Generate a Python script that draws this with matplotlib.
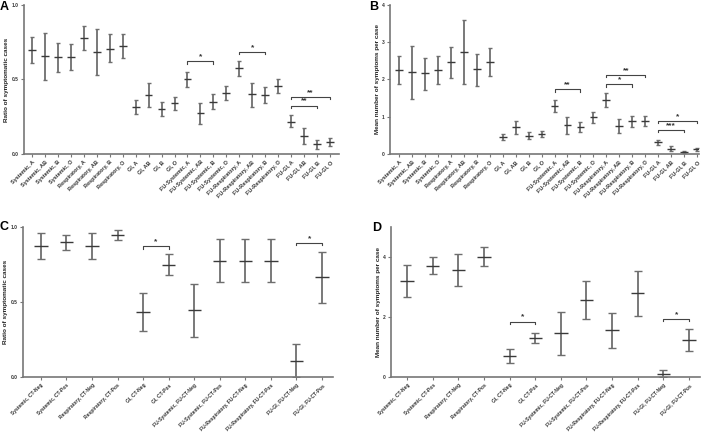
import numpy as np
import matplotlib
matplotlib.use("Agg")
import matplotlib.pyplot as plt

plt.rcParams['font.family'] = ['Liberation Sans', 'DejaVu Sans']

# ---- panel A / B categories (blood groups)
groups_ab = ["Systemic, A", "Systemic, AB", "Systemic, B", "Systemic, O",
             "Respiratory, A", "Respiratory, AB", "Respiratory, B", "Respiratory, O",
             "GI, A", "GI, AB", "GI, B", "GI, O",
             "FU-Systemic, A", "FU-Systemic, AB", "FU-Systemic, B", "FU-Systemic, O",
             "FU-Respiratory, A", "FU-Respiratory, AB", "FU-Respiratory, B", "FU-Respiratory, O",
             "FU-GI, A", "FU-GI, AB", "FU-GI, B", "FU-GI, O"]

a_mean = [0.697, 0.659, 0.648, 0.650, 0.780, 0.686, 0.708, 0.726,
          0.314, 0.394, 0.303, 0.341, 0.501, 0.274, 0.352, 0.408,
          0.575, 0.401, 0.396, 0.459, 0.218, 0.122, 0.065, 0.078]
a_hi = [0.782, 0.815, 0.744, 0.735, 0.860, 0.842, 0.806, 0.806,
        0.361, 0.474, 0.347, 0.383, 0.548, 0.345, 0.401, 0.454,
        0.621, 0.479, 0.448, 0.503, 0.261, 0.174, 0.091, 0.107]
a_lo = [0.608, 0.499, 0.548, 0.563, 0.697, 0.530, 0.617, 0.644,
        0.267, 0.314, 0.252, 0.296, 0.450, 0.203, 0.301, 0.363,
        0.526, 0.318, 0.343, 0.412, 0.180, 0.069, 0.036, 0.051]
a_sig = [(12, 14, 0.621, "*"), (16, 18, 0.686, "*"),
         (20, 22, 0.325, "**"), (20, 23, 0.383, "**")]

b_mean = [2.254, 2.20, 2.165, 2.254, 2.459, 2.744, 2.272, 2.459,
          0.445, 0.713, 0.49, 0.535, 1.292, 0.775, 0.722, 0.989,
          1.461, 0.757, 0.873, 0.873, 0.312, 0.143, 0.062, 0.125]
b_hi = [2.637, 2.904, 2.584, 2.628, 2.877, 3.608, 2.69, 2.84,
        0.526, 0.873, 0.579, 0.615, 1.452, 0.998, 0.846, 1.131,
        1.63, 0.935, 1.016, 1.007, 0.383, 0.214, 0.089, 0.169]
b_lo = [1.871, 1.47, 1.71, 1.871, 2.04, 1.871, 1.835, 2.085,
        0.365, 0.535, 0.40, 0.454, 1.122, 0.543, 0.597, 0.837,
        1.274, 0.561, 0.73, 0.757, 0.24, 0.071, 0.036, 0.089]
b_sig = [(12, 14, 1.737, "**"), (16, 18, 1.871, "*"), (16, 19, 2.12, "**"),
         (20, 22, 0.65, "***"), (20, 23, 0.89, "*")]

# ---- panel C / D categories (CT status)
groups_cd = ["Systemic, CT-Neg", "Systemic, CT-Pos", "Respiratory, CT-Neg", "Respiratory, CT-Pos",
             "GI, CT-Neg", "GI, CT-Pos", "FU-Systemic, FU-CT-Neg", "FU-Systemic, FU-CT-Pos",
             "FU-Respiratory, FU-CT-Neg", "FU-Respiratory, FU-CT-Pos", "FU-GI, FU-CT-Neg", "FU-GI, FU-CT-Pos"]

c_mean = [0.873, 0.898, 0.873, 0.949, 0.436, 0.749, 0.444, 0.776, 0.776, 0.776, 0.109, 0.664]
c_hi = [0.960, 0.949, 0.960, 0.982, 0.562, 0.818, 0.618, 0.922, 0.922, 0.922, 0.218, 0.831]
c_lo = [0.789, 0.849, 0.789, 0.913, 0.307, 0.678, 0.264, 0.631, 0.631, 0.631, 0.0, 0.496]
c_sig = [(4, 5, 0.871, "*"), (10, 11, 0.893, "*")]

d_mean = [3.20, 3.711, 3.567, 4.011, 0.70, 1.311, 1.456, 2.567, 1.567, 2.789, 0.111, 1.233]
d_hi = [3.733, 3.989, 4.10, 4.322, 0.922, 1.467, 2.178, 3.20, 2.133, 3.533, 0.233, 1.60]
d_lo = [2.656, 3.422, 3.044, 3.70, 0.456, 1.133, 0.722, 1.933, 0.978, 2.044, 0.0, 0.867]
d_sig = [(4, 5, 1.844, "*"), (10, 11, 1.933, "*")]


def draw_panel(ax, labels, mean, hi, lo, sig, ylim, yticks, yticklabels, ylabel,
               xlim, mw, cap, bh, xfs):
    x = np.arange(len(labels))
    mean = np.array(mean)
    yerr = [mean - np.array(lo), np.array(hi) - mean]
    ax.errorbar(x, mean, yerr=yerr, fmt='none', ecolor='#6e6e6e', elinewidth=1.3,
                capsize=cap, capthick=1.0)
    ax.hlines(mean, x - mw, x + mw, colors='#3a3a3a', linewidth=1.0)
    for i, j, y, txt in sig:
        ax.plot([i, i, j, j], [y - bh, y, y, y - bh], color='#444444', linewidth=0.8)
        ax.text((i + j) / 2, y + bh * 0.4, txt, ha='center', va='bottom',
                fontsize=6, fontweight='bold', color='#333333')
    ax.set_xlim(*xlim)
    ax.set_ylim(*ylim)
    ax.set_yticks(yticks)
    ax.set_yticklabels(yticklabels, fontsize=3.5, fontweight='bold', color='#333333')
    ax.set_xticks(x)
    ax.set_xticklabels(labels, rotation=45, ha='right', rotation_mode='anchor',
                       fontsize=xfs, fontweight='bold', color='#333333')
    ax.set_ylabel(ylabel, fontsize=4.6, fontweight='bold', color='#222222', labelpad=1.5)
    for s in ['top', 'right']:
        ax.spines[s].set_visible(False)
    for s in ['left', 'bottom']:
        ax.spines[s].set_color('#777777')
        ax.spines[s].set_linewidth(1.2)
    ax.tick_params(axis='both', length=2.5, width=0.8, color='#777777', pad=1.5)


fig = plt.figure(figsize=(7.08, 4.32), dpi=100)
W, H = 708.0, 432.0


def add_axes(l, r, t, b):
    return fig.add_axes([l / W, 1 - b / H, (r - l) / W, (b - t) / H])


axA = add_axes(24, 339, 5, 154)
axB = add_axes(390, 699, 5, 154)
axC = add_axes(23, 333, 227, 377)
axD = add_axes(391, 700, 227, 377)

draw_panel(axA, groups_ab, a_mean, a_hi, a_lo, a_sig, (0, 1.0), [0, 0.5, 1.0],
           ["0.0", "0.5", "1.0"], "Ratio of symptomatic cases", (-0.62, 23.7), 0.3, 1.6, 0.015, 4.0)
draw_panel(axB, groups_ab, b_mean, b_hi, b_lo, b_sig, (0, 4), [0, 1, 2, 3, 4],
           ["0", "1", "2", "3", "4"], "Mean number of symptoms per case", (-0.7, 23.15), 0.3, 1.6, 0.06, 4.0)
draw_panel(axC, groups_cd, c_mean, c_hi, c_lo, c_sig, (0, 1.0), [0, 0.5, 1.0],
           ["0.0", "0.5", "1.0"], "Ratio of symptomatic cases", (-0.7, 11.43), 0.26, 3.0, 0.015, 3.6)
draw_panel(axD, groups_cd, d_mean, d_hi, d_lo, d_sig, (0, 5), [0, 2, 4],
           ["0", "2", "4"], "Mean number of symptoms per case", (-0.63, 11.43), 0.26, 3.0, 0.08, 3.6)

for letter, px, py in [("A", 0, 1), ("B", 369, 1), ("C", 0, 221), ("D", 372, 222)]:
    fig.text(px / W, 1 - py / H, letter, fontsize=9, fontweight='bold', va='top', ha='left')

fig.savefig("out.png", dpi=100)
